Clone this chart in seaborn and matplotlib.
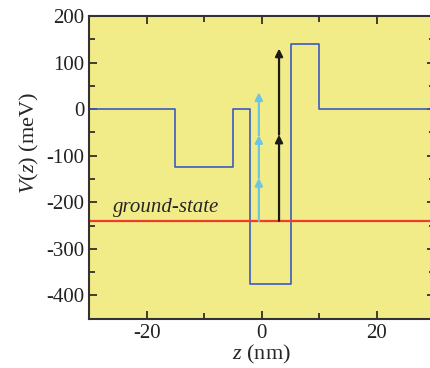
import seaborn as sns
import matplotlib.pyplot as plt
import pandas as pd

# layer boundaries (nm) and potential of each layer (meV)
layer_edges = [-30, -15, -5, -2, 5, 10, 30]
layer_V = [0, -125, 0, -375, 140, 0]

ground_state = -240
# photon transitions: x position, photon energy, number of photons
cyan_z, cyan_step, cyan_n = -0.5, 92, 3
black_z, black_step, black_n = 3.0, 185, 2

sns.set_theme(style="ticks")
plt.rcParams["font.family"] = ["Liberation Serif", "DejaVu Serif"]
plt.rcParams["mathtext.fontset"] = "custom"
plt.rcParams["mathtext.rm"] = "Liberation Serif"
plt.rcParams["mathtext.it"] = "Liberation Serif:italic"
plt.rcParams["axes.unicode_minus"] = False

# build step profile from the layers
zz, vv = [], []
for i, v in enumerate(layer_V):
    zz += [layer_edges[i], layer_edges[i + 1]]
    vv += [v, v]
df = pd.DataFrame({"z": zz, "V": vv})

fig = plt.figure(figsize=(4.3, 3.68), dpi=100)
ax = fig.add_axes([0.207, 0.134, 1.0105 - 0.207, 0.9565 - 0.134])
ax.set_facecolor("#F2EC88")

sns.lineplot(data=df, x="z", y="V", sort=False, estimator=None,
             color="#3B5BC0", lw=1.2, ax=ax)
ax.axhline(ground_state, color="#F03A2A", lw=1.6)

for xz, step, n, col in [(cyan_z, cyan_step, cyan_n, "#6CC6E2"),
                         (black_z, black_step, black_n, "#1A1A1A")]:
    y0 = ground_state
    for k in range(n):
        ax.annotate("", xy=(xz, y0 + step), xytext=(xz, y0),
                    arrowprops=dict(arrowstyle="-|>", color=col, lw=1.6,
                                    mutation_scale=11, shrinkA=0, shrinkB=0))
        y0 += step

ax.text(-25.9, -220, "ground-state", fontsize=15, style="italic")

ax.set_xlim(-30, 30)
ax.set_ylim(-450, 200)
ax.set_xticks([-20, 0, 20])
ax.set_xticks([-10, 10], minor=True)
ax.set_yticks(range(-400, 201, 100))
ax.set_yticks(range(-350, 200, 100), minor=True)
ax.tick_params(which="both", direction="in", top=True, right=True,
               labelsize=15, width=1.2, colors="#222222")
ax.tick_params(which="major", length=6)
ax.tick_params(which="minor", length=4)
for s in ax.spines.values():
    s.set_linewidth(1.5)
    s.set_color("#333333")

ax.set_xlabel(r"$z$ (nm)", fontsize=16, labelpad=0)
ax.set_ylabel(r"$V$($z$) (meV)", fontsize=16)
ax.yaxis.set_label_coords(-0.14, 0.58)

fig.savefig("out.png", dpi=100)
plt.close()
